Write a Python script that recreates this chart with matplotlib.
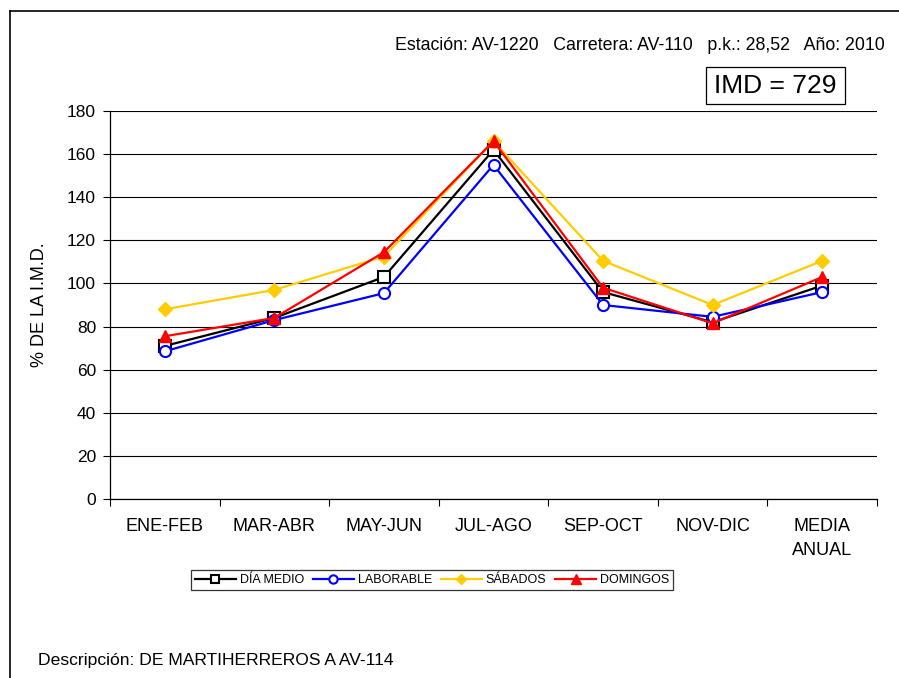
import matplotlib.pyplot as plt
from matplotlib.patches import Rectangle
from matplotlib.lines import Line2D

plt.rcParams['font.family'] = ['Liberation Sans', 'DejaVu Sans']

categorias = ["ENE-FEB", "MAR-ABR", "MAY-JUN", "JUL-AGO", "SEP-OCT", "NOV-DIC", "MEDIA\nANUAL"]
dia_medio = [71, 84, 103, 162, 96, 82, 99]
laborable = [68.5, 83, 95.5, 155, 90, 84.5, 96]
sabados = [88, 97, 112.5, 166, 110.5, 90, 110.5]
domingos = [75.5, 84, 114.5, 166, 98, 81.5, 103]

W, H = 899, 678
fig = plt.figure(figsize=(W / 100, H / 100), dpi=100)

# marco exterior (solo izquierda y arriba visibles)
fig.add_artist(Line2D([10 / W, 10 / W], [0, 1 - 11 / H], color='black', lw=1.2))
fig.add_artist(Line2D([10 / W, 1], [1 - 11 / H, 1 - 11 / H], color='black', lw=1.2))

ax = fig.add_axes([110 / W, 1 - 499 / H, (877 - 110) / W, (499 - 111) / H])
x = range(len(categorias))

ax.plot(x, dia_medio, color='black', lw=1.6, marker='s', ms=8, mfc='white', mec='black', mew=1.5, label='DÍA MEDIO', zorder=3)
ax.plot(x, laborable, color='#0000FF', lw=1.6, marker='o', ms=8, mfc='white', mec='#0000FF', mew=1.5, label='LABORABLE', zorder=3)
ax.plot(x, sabados, color='#FFCC00', lw=1.6, marker='D', ms=7, mfc='#FFCC00', mec='#FFCC00', label='SÁBADOS', zorder=3)
ax.plot(x, domingos, color='#FF0000', lw=1.6, marker='^', ms=9, mfc='#FF0000', mec='#FF0000', label='DOMINGOS', zorder=3)

ax.set_xlim(-0.5, len(categorias) - 0.5)
ax.set_ylim(0, 180)
ax.set_yticks(range(0, 181, 20))
ax.yaxis.grid(True, color='black', lw=0.8)
ax.set_axisbelow(True)

ax.set_xticks([i + 0.5 for i in range(-1, len(categorias))])
ax.set_xticklabels([])
ax.set_xticks(list(x), minor=True)
ax.set_xticklabels(categorias, minor=True, fontsize=13, linespacing=1.5)
ax.tick_params(axis='x', which='minor', length=0, pad=14)
ax.tick_params(axis='x', which='major', length=5, direction='out', width=0.8)
ax.tick_params(axis='y', length=5, direction='out', width=0.8, labelsize=12.5, pad=5)

for s in ['top', 'right']:
    ax.spines[s].set_visible(False)
ax.spines['left'].set_linewidth(0.9)
ax.spines['bottom'].set_linewidth(0.9)

ax.set_ylabel('% DE LA I.M.D.', fontsize=13, labelpad=14)

leg = ax.legend(loc='center', bbox_to_anchor=(432 / W, 1 - 580 / H), bbox_transform=fig.transFigure,
                ncol=4, fontsize=9, frameon=True, fancybox=False, edgecolor='black',
                handlelength=3.3, handletextpad=0.3, columnspacing=0.7, borderpad=0.3,
                markerscale=0.75)
leg.get_frame().set_linewidth(0.9)

fig.text(885 / W, 1 - 45 / H, 'Estación: AV-1220   Carretera: AV-110   p.k.: 28,52   Año: 2010',
         ha='right', va='center', fontsize=12.8)
fig.text(775 / W, 1 - 86 / H, 'IMD = 729', ha='center', va='center', fontsize=19)
fig.add_artist(Rectangle((706 / W, 1 - 104 / H), 139 / W, 37 / H, fill=False, edgecolor='black', lw=0.9,
                         transform=fig.transFigure))
fig.text(38 / W, 1 - 660 / H, 'Descripción: DE MARTIHERREROS A AV-114', ha='left', va='center', fontsize=12.6)

fig.savefig('out.png', dpi=100)
